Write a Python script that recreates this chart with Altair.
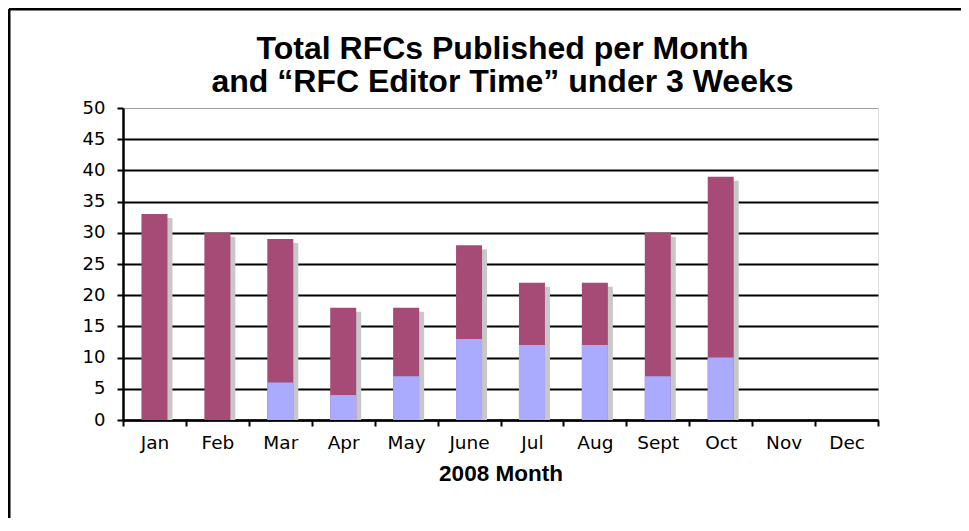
import altair as alt
import pandas as pd

months = ["Jan", "Feb", "Mar", "Apr", "May", "June", "Jul", "Aug", "Sept", "Oct", "Nov", "Dec"]
total = [33, 30, 29, 18, 18, 28, 22, 22, 30, 39, 0, 0]
under3 = [0, 0, 6, 4, 7, 13, 12, 12, 7, 10, 0, 0]
y_ticks = [0, 5, 10, 15, 20, 25, 30, 35, 40, 45, 50]

title_lines = ["Total RFCs Published per Month", "and \u201cRFC Editor Time\u201d under 3 Weeks"]
x_title = "2008 Month"

df = pd.DataFrame({"month": months, "total": total, "under": under3})

W, H = 755, 312
BAR = 26

x_axis = alt.Axis(title=x_title, labelAngle=0, labelFont="DejaVu Sans", labelFontSize=18.5,
                  labelColor="black", labelPadding=7, tickColor="black", tickSize=6,
                  tickWidth=2, tickBand="extent", domainColor="black", domainWidth=2.5,
                  titleFont="Liberation Sans", titleFontSize=22.5, titleFontWeight="bold",
                  titleColor="black", titlePadding=11, grid=False)
x_scale = alt.Scale(paddingInner=0, paddingOuter=0)

y_scale = alt.Scale(domain=[0, 50], nice=False)
y_axis = alt.Axis(title=None, values=y_ticks, labelFont="DejaVu Sans", labelFontSize=18,
                  labelColor="black", labelPadding=12, tickColor="black", tickSize=6, tickWidth=2,
                  domainColor="black", domainWidth=2.5, grid=True,
                  gridColor={"condition": {"test": "datum.value == 50", "value": "#a0a0a0"}, "value": "black"},
                  gridWidth={"condition": {"test": "datum.value == 50", "value": 1}, "value": 2})


def xe():
    return alt.X("month:N", sort=months, scale=x_scale, axis=x_axis)


def ye(field):
    return alt.Y(field, scale=y_scale, axis=y_axis)


base = alt.Chart(df)

shadow = base.transform_filter("datum.total > 0").mark_bar(
    color="#c8c8c8", size=BAR, xOffset=5, yOffset=4, y2Offset=-0.01).encode(
    x=xe(), y=ye("total:Q"), y2=alt.datum(0))
maroon = base.mark_bar(color="#A64B76", size=BAR).encode(x=xe(), y=ye("total:Q"))
lav = base.transform_filter("datum.under > 0").mark_bar(color="#AAAAFF", size=BAR).encode(
    x=xe(), y=ye("under:Q"))

one = alt.Chart(pd.DataFrame({"a": [0]}))
border_top = one.mark_rule(color="black", strokeWidth=3).encode(
    x=alt.value(-114), x2=alt.value(W + 90), y=alt.value(-99))
border_left = one.mark_rule(color="black", strokeWidth=3).encode(
    x=alt.value(-114), y=alt.value(-99), y2=alt.value(H + 110))
title = one.mark_text(text=title_lines, font="Liberation Sans", fontSize=32, fontWeight="bold",
                      color="black", align="center", baseline="alphabetic", lineHeight=33).encode(
    x=alt.value(W / 2 + 2), y=alt.value(-49))

chart = alt.layer(shadow, maroon, lav, border_top, border_left, title).properties(
    width=W, height=H,
    autosize="none",
    padding={"left": 115, "top": 100, "right": 83, "bottom": 98},
).configure_view(stroke="#a0a0a0", strokeWidth=2).configure(background="white")

chart.save("out.html", embed_options={"renderer": "svg", "actions": False})
